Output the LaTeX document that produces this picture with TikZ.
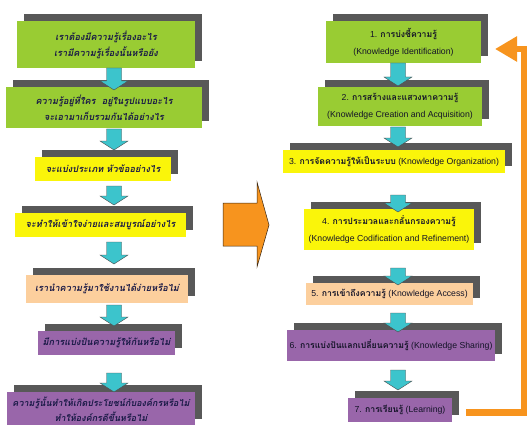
\documentclass[tikz,border=0pt]{standalone}
\usepackage{fontspec}
\setmainfont{Liberation Sans}
\newfontfamily\thai[Script=Thai]{Loma}
\newfontfamily\thaisl[Script=Thai,FakeSlant=0.2]{Loma}
\usetikzlibrary{shadows,arrows.meta}
\definecolor{kgreen}{RGB}{153,204,51}
\definecolor{kyellow}{RGB}{250,245,10}
\definecolor{kpeach}{RGB}{252,207,157}
\definecolor{kpurple}{RGB}{153,102,170}
\definecolor{kcyan}{RGB}{60,196,204}
\definecolor{korange}{RGB}{247,148,30}
\definecolor{kshadow}{RGB}{88,88,88}
\definecolor{ktext}{RGB}{25,25,70}
\definecolor{ktextr}{RGB}{20,20,40}
\tikzset{
  kbox/.style={inner sep=1pt, align=center, text=ktext,
    drop shadow={shadow xshift=7pt, shadow yshift=7pt, fill=kshadow, opacity=1}},
  lbox/.style={kbox, font=\fontsize{9.2}{16}\thaisl\bfseries},
  rbox/.style={kbox, text=ktextr, font=\fontsize{8.7}{17}\selectfont},
  cyanarrow/.style={fill=kcyan, draw=black!70, line width=0.4pt},
}
\newcommand\blockarrow[3]{%
  \draw[cyanarrow] (#1-7.5,#2) -- (#1+7.5,#2) -- (#1+7.5,#3-9) -- (#1+14,#3-9)
    -- (#1,#3) -- (#1-14,#3-9) -- (#1-7.5,#3-9) -- cycle;}
\newcommand\thb[1]{{\thai\bfseries #1}}
\begin{document}
\begin{tikzpicture}[x=1pt,y=-1pt]
\useasboundingbox (0,0) rectangle (527,425);
\fill[white] (0,0) rectangle (527,425);
\clip (0,0) rectangle (527,425);
% left column
\node[lbox, fill=kgreen, minimum width=178pt, minimum height=47pt] (L1) at (106,44.5)
  {เราต้องมีความรู้เรื่องอะไร\\เรามีความรู้เรื่องนั้นหรือยัง};
\node[lbox, fill=kgreen, minimum width=196pt, minimum height=41pt] (L2) at (104,107.5)
  {ความรู้อยู่ที่ใคร~~อยู่ในรูปแบบอะไร\\จะเอามาเก็บรวมกันได้อย่างไร};
\node[lbox, fill=kyellow, minimum width=136pt, minimum height=24pt] (L3) at (103,169)
  {จะแบ่งประเภท หัวข้ออย่างไร};
\node[lbox, fill=kyellow, minimum width=171pt, minimum height=24pt] (L4) at (100.5,225)
  {จะทำให้เข้าใจง่ายและสมบูรณ์อย่างไร};
\node[lbox, fill=kpeach, minimum width=162pt, minimum height=28pt] (L5) at (107,289)
  {เรานำความรู้มาใช้งานได้ง่ายหรือไม่};
\node[lbox, fill=kpurple, minimum width=137pt, minimum height=24pt] (L6) at (106.5,343)
  {มีการแบ่งปันความรู้ให้กันหรือไม่};
\node[lbox, fill=kpurple, minimum width=188pt, minimum height=34pt,
      font=\fontsize{9}{15}\thaisl\bfseries] (L7) at (101,409)
  {ความรู้นั้นทำให้เกิดประโยชน์กับองค์กรหรือไม่\\ทำให้องค์กรดีขึ้นหรือไม่};
% right column
\node[rbox, fill=kgreen, minimum width=155pt, minimum height=42pt] (R1) at (403.5,42)
  {1. \thb{การบ่งชี้ความรู้}\\(Knowledge Identification)};
\node[rbox, fill=kgreen, minimum width=164pt, minimum height=39pt] (R2) at (400,106.5)
  {2. \thb{การสร้างและแสวงหาความรู้}\\(Knowledge Creation and Acquisition)};
\node[rbox, fill=kyellow, minimum width=222pt, minimum height=23pt] (R3) at (394,161.5)
  {3. \thb{การจัดความรู้ให้เป็นระบบ} (Knowledge Organization)};
\node[rbox, fill=kyellow, minimum width=170pt, minimum height=41pt] (R4) at (389,229.5)
  {4. \thb{การประมวลและกลั่นกรองความรู้}\\(Knowledge Codification and Refinement)};
\node[rbox, fill=kpeach, minimum width=167pt, minimum height=22pt] (R5) at (389.5,294)
  {5. \thb{การเข้าถึงความรู้} (Knowledge Access)};
\node[rbox, fill=kpurple, minimum width=208pt, minimum height=31pt] (R6) at (391,345.5)
  {6. \thb{การแบ่งปันแลกเปลี่ยนความรู้} (Knowledge Sharing)};
\node[rbox, fill=kpurple, minimum width=104pt, minimum height=24pt] (R7) at (400,410)
  {7. \thb{การเรียนรู้} (Learning)};
% cyan block arrows
\blockarrow{114}{68}{90}
\blockarrow{114}{129}{150}
\blockarrow{114}{186}{205}
\blockarrow{114}{242}{264}
\blockarrow{114}{305}{326}
\blockarrow{114}{373}{392}
\blockarrow{398}{63}{86}
\blockarrow{398}{127}{147}
\blockarrow{398}{195}{212}
\blockarrow{398}{268}{285}
\blockarrow{398}{313}{332}
\blockarrow{398}{370}{390}
% big orange arrow
\draw[fill=korange, draw=black!70!brown, line width=0.5pt]
  (223,203) -- (257,203) -- (257,182) -- (269,225) -- (257,267) -- (257,246) -- (223,246) -- cycle;
% return connector
\coordinate (rs) at (466,412.5);
\coordinate (re) at (495,49);
\draw[korange, line width=6.5pt, -{Triangle[length=22pt,width=24pt]}]
  (rs) -- (524,412.5) -- (524,49) -- (re);
\end{tikzpicture}
\end{document}
